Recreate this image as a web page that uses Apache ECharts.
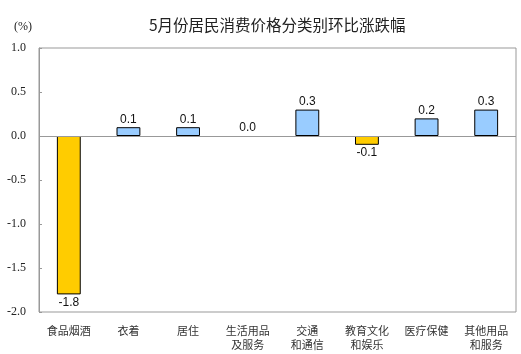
<!DOCTYPE html>
<html>
<head>
<meta charset="utf-8">
<script src="https://cdn.jsdelivr.net/npm/echarts@6/dist/echarts.min.js"></script>
<style>
  html, body { margin: 0; padding: 0; background: #fff; }
  #chart { width: 521px; height: 354px; }
</style>
</head>
<body>
<div id="chart"></div>
<script>
// 类别与环比涨跌幅 (%)
const categories = ['食品烟酒', '衣着', '居住', '生活用品\n及服务', '交通\n和通信', '教育文化\n和娱乐', '医疗保健', '其他用品\n和服务']
const values = [-1.8, 0.1, 0.1, 0.0, 0.3, -0.1, 0.2, 0.3]
const yTicks = { min: -2.0, max: 1.0, interval: 0.5 }

const chart = echarts.init(document.getElementById('chart'))

chart.setOption({
  animation: false,
  title: [
    {
      text: '5月份居民消费价格分类别环比涨跌幅',
      left: 144,
      top: 12,
      textStyle: { fontFamily: 'Noto Sans CJK SC', fontSize: 15.5, fontWeight: 'normal', color: '#222' }
    },
    {
      text: '(%)',
      left: 9,
      top: 16,
      textStyle: { fontFamily: 'Liberation Serif', fontSize: 12, fontWeight: 'normal', color: '#222' }
    }
  ],
  grid: {
    left: 39, right: 5, top: 48, bottom: 42,
    show: true, borderColor: '#999', borderWidth: 1
  },
  xAxis: {
    type: 'category',
    data: categories,
    axisLine: { show: false },
    axisTick: { show: false },
    axisLabel: {
      interval: 0,
      margin: 12,
      fontFamily: 'Noto Sans CJK SC',
      fontSize: 11,
      lineHeight: 14,
      color: '#333'
    }
  },
  yAxis: {
    type: 'value',
    min: yTicks.min,
    max: yTicks.max,
    interval: yTicks.interval,
    axisLine: { show: true, lineStyle: { color: '#999' } },
    axisTick: { show: true, inside: true, length: 3, lineStyle: { color: '#999' } },
    splitLine: { show: false },
    axisLabel: {
      margin: 13,
      fontFamily: 'Liberation Serif',
      fontSize: 12,
      color: '#222',
      formatter: v => v.toFixed(1)
    }
  },
  series: [
    {
      type: 'bar',
      barWidth: '40%',
      data: values.map(v => ({
        value: v,
        itemStyle: {
          color: v < 0 ? '#FFCC00' : '#99CCFF',
          borderWidth: v === 0 ? 0 : 1 // 0 值不画边框
        },
        label: { position: v < 0 ? 'bottom' : 'top' }
      })),
      itemStyle: { borderColor: '#000', borderWidth: 1 },
      label: {
        show: true,
        distance: 2,
        fontFamily: 'Liberation Sans',
        fontSize: 12,
        color: '#111',
        formatter: p => p.value.toFixed(1)
      },
      markLine: {
        silent: true,
        symbol: 'none',
        label: { show: false },
        lineStyle: { color: '#999', type: 'solid', width: 1 },
        data: [{ yAxis: 0 }]
      }
    }
  ]
})
</script>
</body>
</html>
